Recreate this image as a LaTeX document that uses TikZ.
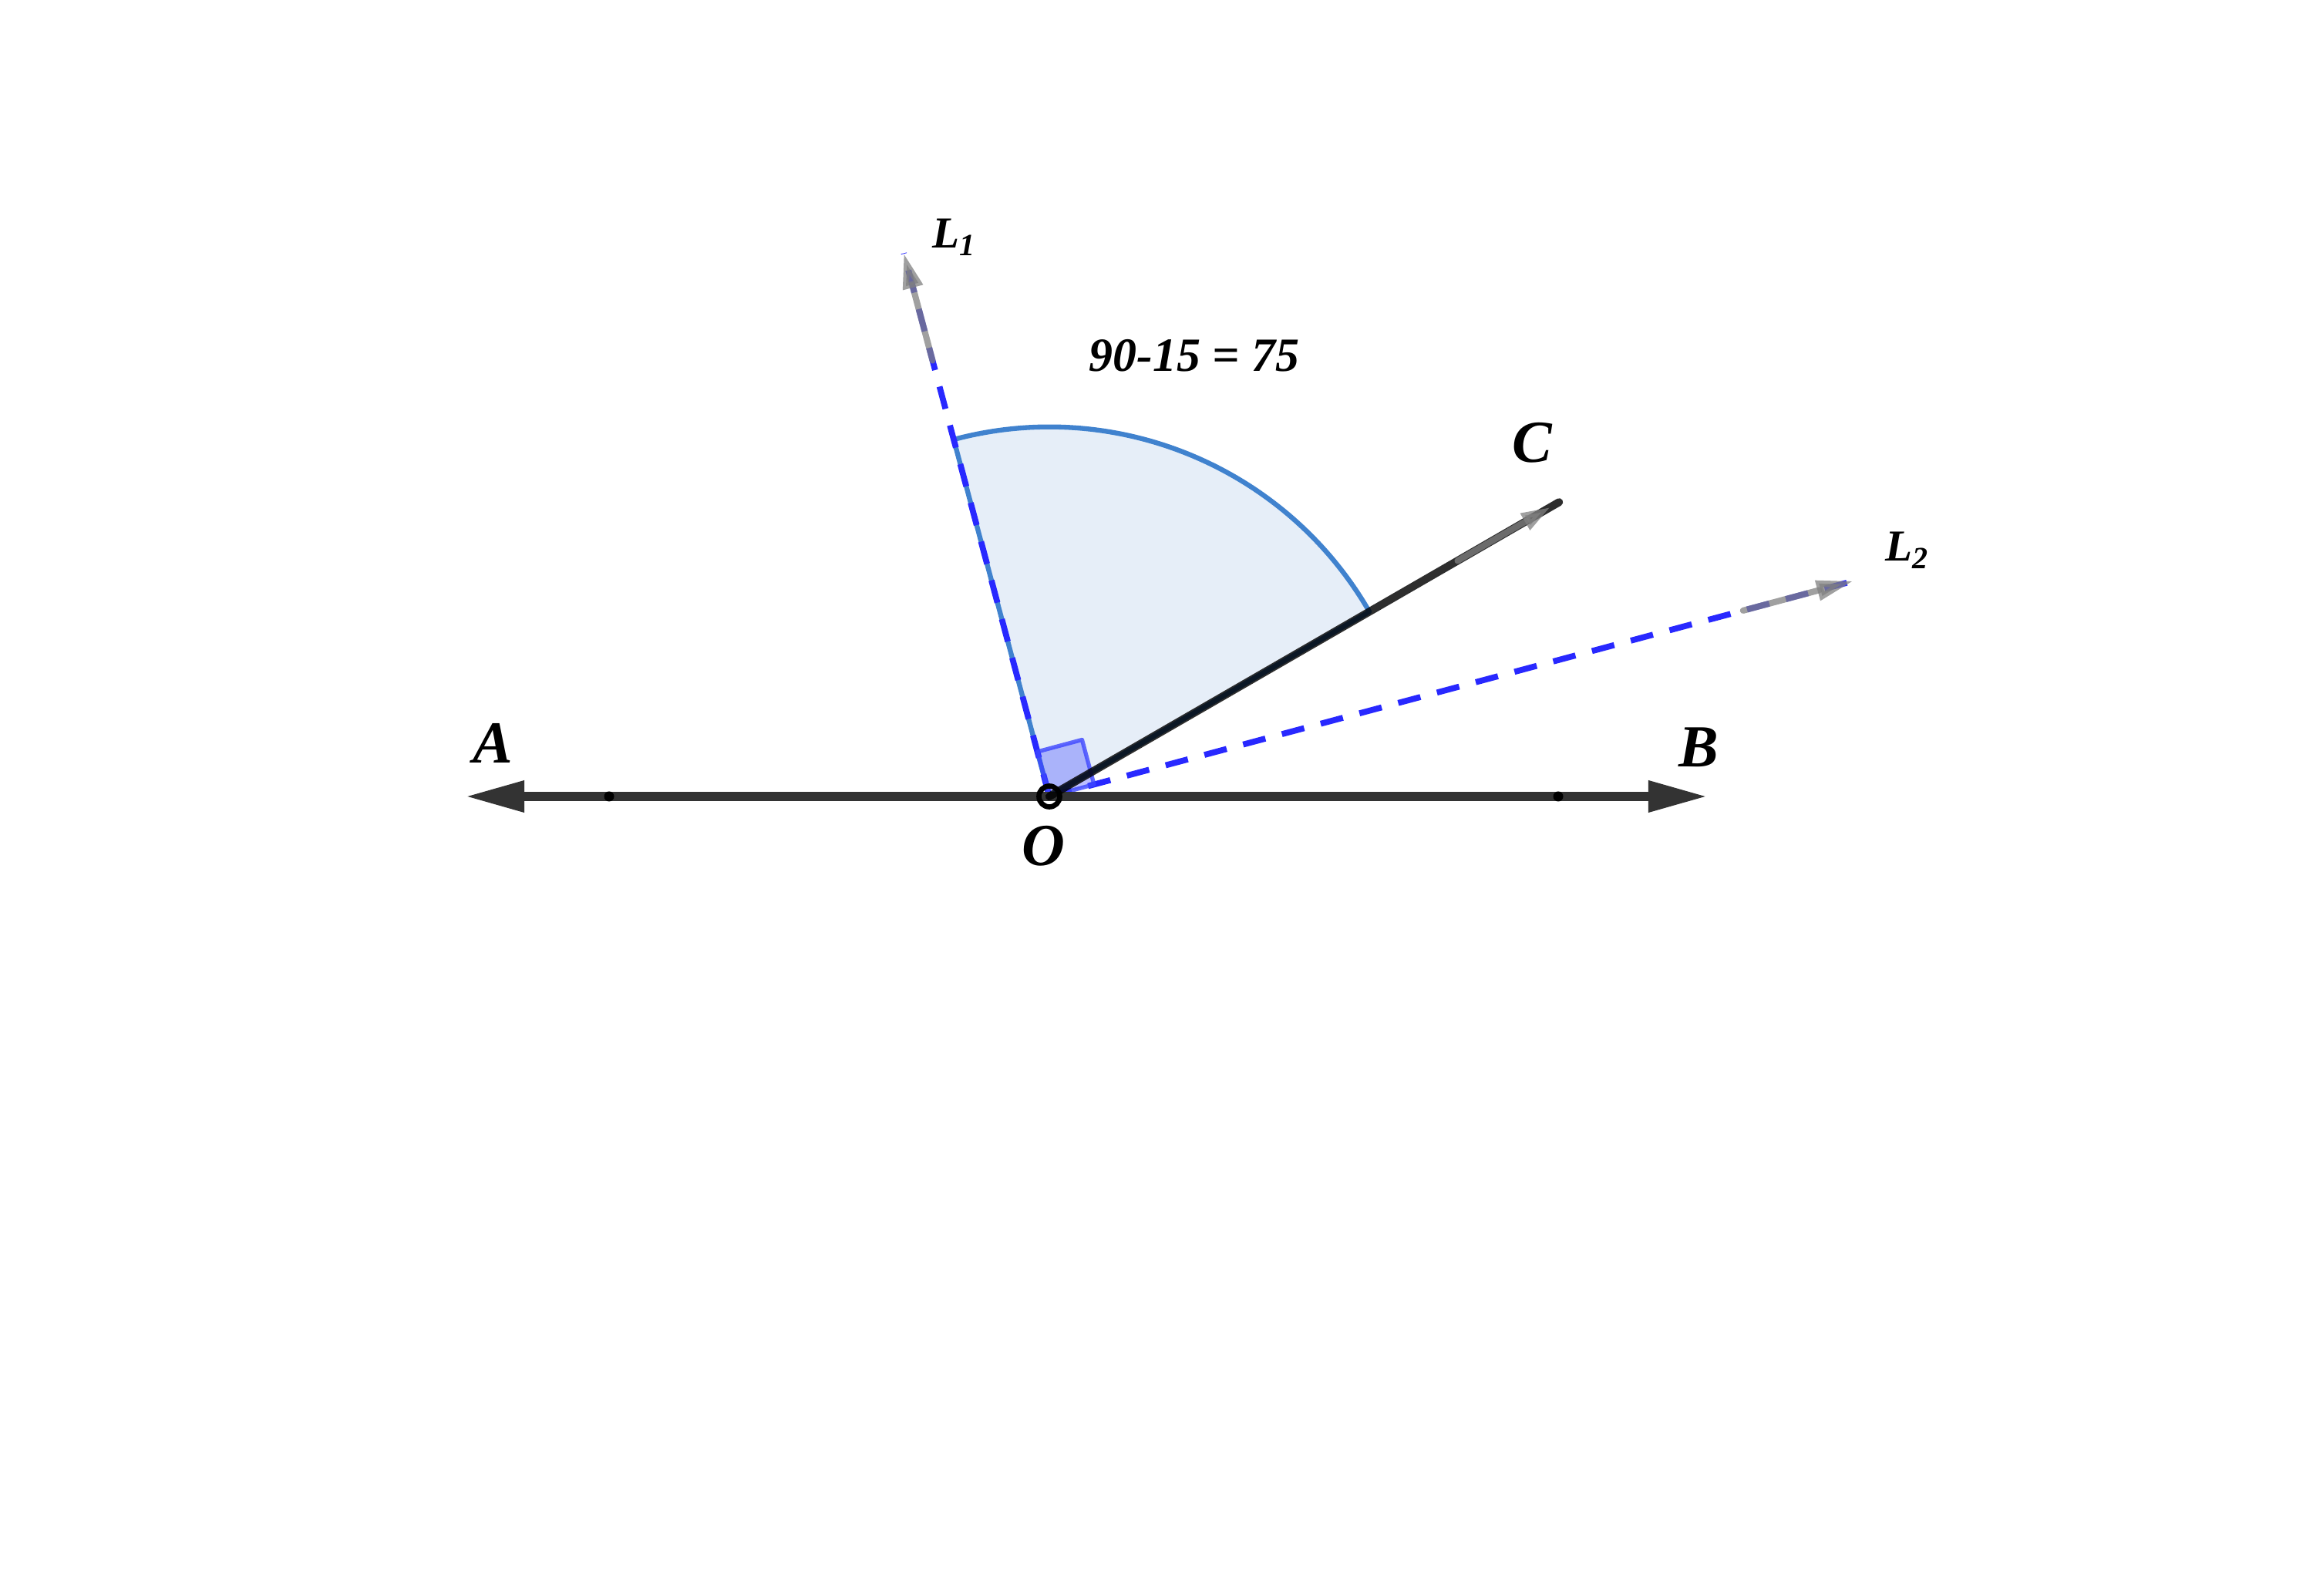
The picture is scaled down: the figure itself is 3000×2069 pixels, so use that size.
\documentclass[tikz,border=0pt]{standalone}
\usepackage{fontspec}
\setmainfont{Liberation Serif}
\usetikzlibrary{arrows.meta,calc}
\definecolor{darkln}{RGB}{51,51,51}
\definecolor{sectfill}{RGB}{230,238,248}
\definecolor{sectline}{RGB}{64,130,206}
\definecolor{dashblue}{RGB}{40,40,255}
\definecolor{sqblue}{RGB}{60,70,255}
\begin{document}
\begin{tikzpicture}[x=0.01cm,y=0.01cm,
  mainline/.style={draw=darkln,line width=3.6pt},
  dashline/.style={draw=dashblue,line width=2.2pt,dash pattern=on 8.5pt off 6.3pt},
  vecline/.style={draw=gray,opacity=0.75,line width=2.3pt,line cap=round},
  lbl/.style={font=\fontsize{22}{24}\selectfont\bfseries\itshape,inner sep=0pt,anchor=base},
  lblsmall/.style={font=\fontsize{16.3}{18}\selectfont\bfseries\itshape,inner sep=0pt,anchor=base},
  dotpt/.style={fill=black,circle,inner sep=0pt,minimum size=0.13cm}]
\useasboundingbox (0,0) rectangle (3000,2069);
\coordinate (O) at (1361,1036);
\coordinate (Atip) at (603,1036);
\coordinate (Btip) at (2215,1036);
\coordinate (Cend) at ($(O)+(30:7.63cm)$);
\coordinate (L1end) at ($(O)+(105:7.29cm)$);
\coordinate (L2end) at ($(O)+(15:10.79cm)$);
\coordinate (arcS) at ($(O)+(105:4.79cm)$);
% sector
\fill[sectfill] (O) -- (arcS) arc[start angle=105,end angle=30,radius=4.79cm] -- cycle;
\draw[sectline,line width=1.8pt,line join=round] (O) -- (arcS) arc[start angle=105,end angle=30,radius=4.79cm] -- cycle;
% dashed perpendicular lines
\draw[dashline] (O) -- (L2end);
\draw[dashline] (O) -- (L1end);
% right angle mark
\filldraw[fill=sqblue,fill opacity=0.35,draw=sqblue,draw opacity=0.8,line width=1.5pt,line join=round]
  (O) -- ($(O)+(105:0.6cm)$) -- ($(O)+(105:0.6cm)+(15:0.6cm)$) -- ($(O)+(15:0.6cm)$) -- cycle;
% line AB
\draw[mainline,{Triangle[length=0.77cm,width=0.38cm]}-{Triangle[length=0.77cm,width=0.38cm]}] (Atip) -- (Btip);
% ray OC
\draw[draw=black,opacity=0.82,line width=2.9pt,line cap=round] (O) -- (Cend);
% gray vectors
\coordinate (v1s) at ($(O)+(105:5.85cm)$);
\coordinate (v2s) at ($(O)+(15:9.31cm)$);
\coordinate (v3s) at ($(O)+(30:6.11cm)$);
\coordinate (v3e) at ($(O)+(30:7.5cm)$);
\draw[vecline,-{Triangle[length=0.46cm,width=0.25cm]}] (v1s) -- (L1end);
\draw[vecline,-{Triangle[length=0.48cm,width=0.25cm]}] (v2s) -- (L2end);
\draw[vecline,-{Triangle[length=0.38cm,width=0.23cm]}] (v3s) -- (v3e);
% points
\node[dotpt] (P1) at (790,1036) {};
\node[dotpt] (P2) at (2021,1036) {};
\draw[black,line width=1.9pt] (O) circle[radius=0.135cm];
% labels
\node[lbl] (labA) at (639,1079) {A};
\node[lbl] (labB) at (2203,1074) {B};
\node[lbl] (labC) at (1987,1469) {C};
\node[lbl] (labO) at (1353,946) {O};
\node[lblsmall] (labL1) at (1238,1747) {L\textsubscript{1}};
\node[lblsmall] (labL2) at (2474,1341) {L\textsubscript{2}};
\node[font=\fontsize{17.6}{20}\selectfont\bfseries\itshape,inner sep=0pt,anchor=base] (eq) at (1549,1587) {90-15 = 75};
\end{tikzpicture}
\end{document}
